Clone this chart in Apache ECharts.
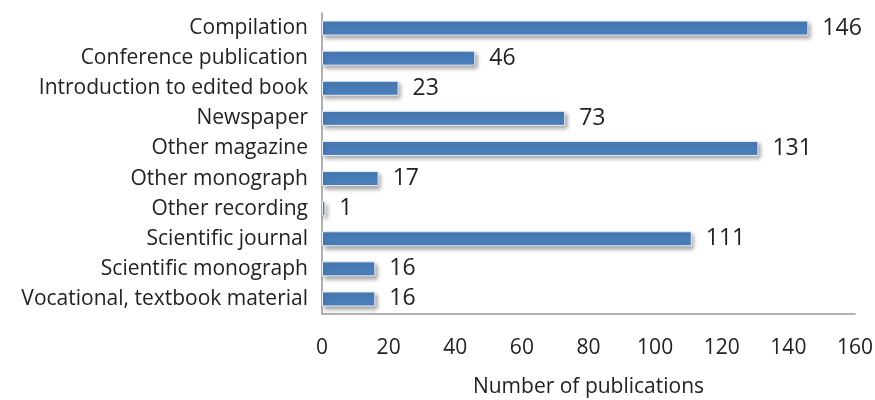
<!DOCTYPE html>
<html>
<head>
<meta charset="utf-8">
<script src="https://cdn.jsdelivr.net/npm/echarts@6/dist/echarts.min.js"></script>
<style>
  html, body { margin: 0; padding: 0; background: #fff; }
  #chart { width: 875px; height: 400px; }
</style>
</head>
<body>
<div id="chart"></div>
<script>
var categories = [
    'Compilation',
    'Conference publication',
    'Introduction to edited book',
    'Newspaper',
    'Other magazine',
    'Other monograph',
    'Other recording',
    'Scientific journal',
    'Scientific monograph',
    'Vocational, textbook material'
];
var counts = [146, 46, 23, 73, 131, 17, 1, 111, 16, 16];
var xTicks = [0, 20, 40, 60, 80, 100, 120, 140, 160];

var chart = echarts.init(document.getElementById('chart'));
var font = '"Open Sans", sans-serif';

chart.setOption({
    animation: false,
    grid: { left: 322, right: 20, top: 13, bottom: 86, outerBoundsMode: 'none' },
    xAxis: {
        type: 'value',
        min: xTicks[0],
        max: xTicks[xTicks.length - 1],
        interval: 20,
        name: 'Number of publications',
        nameLocation: 'middle',
        nameGap: 63,
        nameTextStyle: { fontFamily: font, fontSize: 21, color: '#222' },
        axisLine: { show: true, lineStyle: { color: '#999', width: 1.5 } },
        axisTick: { show: false },
        splitLine: { show: false },
        axisLabel: { margin: 24, fontFamily: font, fontSize: 21, color: '#222' }
    },
    yAxis: {
        type: 'category',
        inverse: true,
        data: categories,
        axisLine: { show: true, lineStyle: { color: '#999', width: 1.5 } },
        axisTick: { show: false },
        axisLabel: { margin: 14, fontFamily: font, fontSize: 21, color: '#222' }
    },
    series: [{
        type: 'bar',
        data: counts,
        barWidth: 15,
        itemStyle: {
            color: '#4a7ebb',
            borderColor: '#e8eef7',
            borderWidth: 1,
            shadowColor: 'rgba(0,0,0,0.35)',
            shadowBlur: 4,
            shadowOffsetX: 2,
            shadowOffsetY: 3
        },
        label: {
            show: true,
            position: 'right',
            distance: 14,
            fontFamily: font,
            fontSize: 23,
            color: '#222'
        }
    }]
});
</script>
</body>
</html>
